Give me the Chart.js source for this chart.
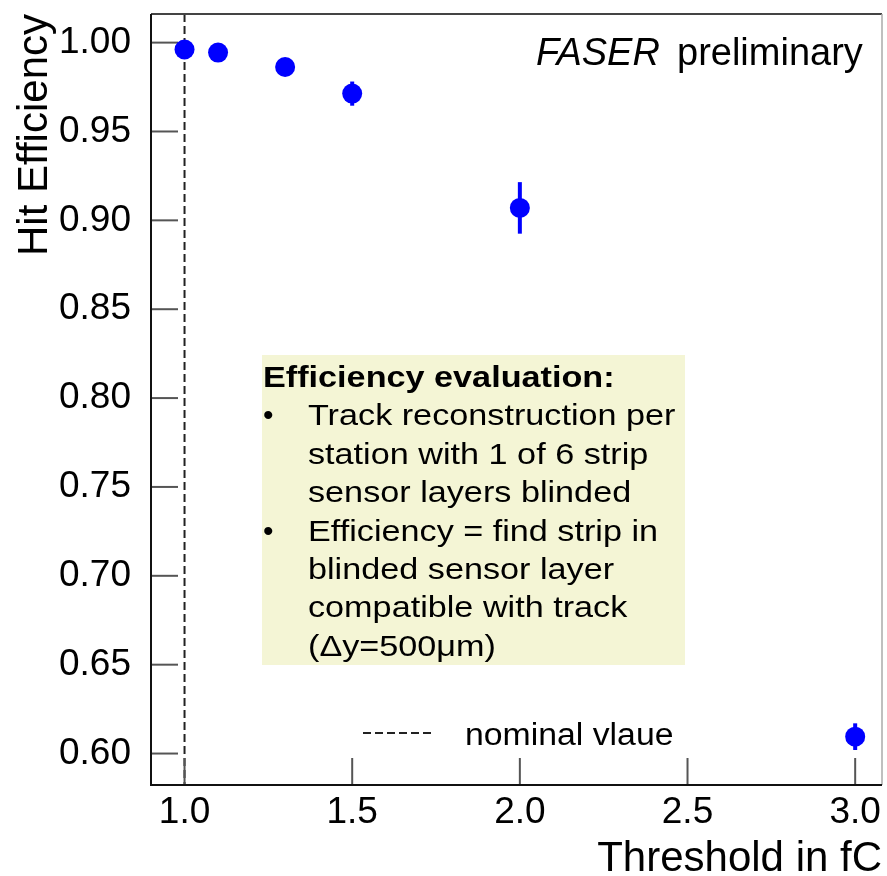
<!DOCTYPE html>
<html>
<head>
<meta charset="utf-8">
<script src="https://cdn.jsdelivr.net/npm/chart.js@4/dist/chart.umd.min.js"></script>
<style>
  html, body { margin: 0; padding: 0; background: #fff; }
  #wrap { width: 887px; height: 876px; }
</style>
</head>
<body>
<div id="wrap"><canvas id="my-Chart"></canvas></div>
<script>
// dados
const thresholds = [1.0, 1.1, 1.3, 1.5, 2.0, 3.0];
const efficiency = [0.9961, 0.9944, 0.9863, 0.9713, 0.9070, 0.6095];
const effErrors  = [0.002, 0.002, 0.003, 0.0068, 0.0145, 0.0075];
const nominalThreshold = 1.0;

const xTickLabels = ['1.0', '1.5', '2.0', '2.5', '3.0'];
const yTickLabels = ['0.60', '0.65', '0.70', '0.75', '0.80', '0.85', '0.90', '0.95', '1.00'];

const boxLines = [
    { bold: true,  bullet: false, text: 'Efficiency evaluation:' },
    { bold: false, bullet: true,  text: 'Track reconstruction per' },
    { bold: false, bullet: false, text: 'station with 1 of 6 strip' },
    { bold: false, bullet: false, text: 'sensor layers blinded' },
    { bold: false, bullet: true,  text: 'Efficiency = find strip in' },
    { bold: false, bullet: false, text: 'blinded sensor layer' },
    { bold: false, bullet: false, text: 'compatible with track' },
    { bold: false, bullet: false, text: '(\u0394y=500\u03bcm)' }
];

const FONT = '"Liberation Sans", Arial, Helvetica, sans-serif';

// ticks para dentro, moldura, linha nominal, barras de erro
const rootStyle = {
    id: 'rootStyle',
    beforeDatasetsDraw(chart) {
        const ctx = chart.ctx;
        const a = chart.chartArea;
        const xs = chart.scales.x, ys = chart.scales.y;
        ctx.save();

        // linha tracejada no valor nominal
        const xn = xs.getPixelForValue(nominalThreshold);
        ctx.strokeStyle = '#222';
        ctx.lineWidth = 2;
        ctx.setLineDash([8, 4]);
        ctx.beginPath();
        ctx.moveTo(xn, a.top);
        ctx.lineTo(xn, a.bottom);
        ctx.stroke();
        ctx.setLineDash([]);

        // ticks
        ctx.strokeStyle = '#555';
        ctx.lineWidth = 2;
        ys.ticks.forEach(t => {
            const y = ys.getPixelForValue(t.value);
            ctx.beginPath();
            ctx.moveTo(a.left, y);
            ctx.lineTo(a.left + 27, y);
            ctx.stroke();
        });
        xs.ticks.forEach(t => {
            const x = xs.getPixelForValue(t.value);
            ctx.beginPath();
            ctx.moveTo(x, a.bottom);
            ctx.lineTo(x, a.bottom - 27);
            ctx.stroke();
        });

        // barras de erro
        ctx.strokeStyle = '#0000ff';
        ctx.lineWidth = 4;
        thresholds.forEach((tx, i) => {
            const x = xs.getPixelForValue(tx);
            ctx.beginPath();
            ctx.moveTo(x, ys.getPixelForValue(efficiency[i] - effErrors[i]));
            ctx.lineTo(x, ys.getPixelForValue(efficiency[i] + effErrors[i]));
            ctx.stroke();
        });

        // moldura
        ctx.lineWidth = 2;
        ctx.strokeStyle = '#444';
        ctx.beginPath();
        ctx.moveTo(a.left, a.top);
        ctx.lineTo(a.right, a.top);
        ctx.stroke();
        ctx.strokeStyle = '#aaa';
        ctx.lineWidth = 1.5;
        ctx.beginPath();
        ctx.moveTo(a.right, a.top);
        ctx.lineTo(a.right, a.bottom);
        ctx.stroke();
        ctx.strokeStyle = '#111';
        ctx.lineWidth = 2;
        ctx.beginPath();
        ctx.moveTo(a.left, a.top);
        ctx.lineTo(a.left, a.bottom);
        ctx.lineTo(a.right, a.bottom);
        ctx.stroke();
        ctx.restore();
    },
    afterDraw(chart) {
        const ctx = chart.ctx;
        ctx.save();
        ctx.fillStyle = '#000';
        ctx.textBaseline = 'alphabetic';
        ctx.textAlign = 'left';

        // FASER preliminary
        ctx.font = 'italic 38px ' + FONT;
        ctx.fillText('FASER', 536, 65);
        ctx.font = '38px ' + FONT;
        ctx.fillText('preliminary', 677, 65);

        // legenda
        ctx.strokeStyle = '#222';
        ctx.lineWidth = 2;
        ctx.setLineDash([8, 4]);
        ctx.beginPath();
        ctx.moveTo(363, 733);
        ctx.lineTo(433, 733);
        ctx.stroke();
        ctx.setLineDash([]);
        ctx.font = '31px ' + FONT;
        ctx.save();
        ctx.translate(465, 745);
        ctx.scale(1.09, 1);
        ctx.fillText('nominal vlaue', 0, 0);
        ctx.restore();

        // caixa de texto
        ctx.fillStyle = '#f4f5d5';
        ctx.fillRect(262, 355, 423, 310);
        ctx.fillStyle = '#000';
        boxLines.forEach((ln, i) => {
            const base = 387 + i * 38.4;
            ctx.font = (ln.bold ? 'bold ' : '') + '30px ' + FONT;
            if (ln.bullet) {
                ctx.fillText('\u2022', 263, base);
            }
            const x0 = ln.bold ? 263 : 308;
            ctx.save();
            ctx.translate(x0, base);
            ctx.scale(1.14, 1);
            ctx.fillText(ln.text, 0, 0);
            ctx.restore();
        });
        ctx.restore();
    }
};

function plotChart() {
    const ctx = document.querySelector('#my-Chart');
    new Chart(ctx, {
        type: 'scatter',
        data: {
            datasets: [{
                label: 'Hit Efficiency',
                data: thresholds.map((t, i) => ({ x: t, y: efficiency[i] })),
                pointRadius: 10,
                pointHoverRadius: 10,
                backgroundColor: '#0000ff',
                borderWidth: 0
            }]
        },
        options: {
            responsive: true,
            maintainAspectRatio: false,
            animation: false,
            layout: { autoPadding: false, padding: { top: 14, right: 5, left: 0, bottom: 0 } },
            plugins: { legend: { display: false }, tooltip: { enabled: false } },
            scales: {
                x: {
                    type: 'linear',
                    min: 0.9,
                    max: 3.08,
                    grid: { display: false },
                    border: { display: false },
                    afterFit(s) {
                        s.height = 91;
                        s.paddingLeft = 0;
                        s.paddingRight = 0;
                    },
                    ticks: {
                        stepSize: 0.5,
                        includeBounds: false,
                        padding: -2,
                        color: '#000',
                        font: { family: FONT, size: 37 },
                        callback: (v) => xTickLabels.find(l => Math.abs(parseFloat(l) - v) < 1e-6) || ''
                    },
                    title: {
                        display: true,
                        text: 'Threshold in fC',
                        align: 'end',
                        color: '#000',
                        font: { family: FONT, size: 42, lineHeight: 0.8 },
                        padding: 0
                    }
                },
                y: {
                    type: 'linear',
                    min: 0.5823,
                    max: 1.0161,
                    grid: { display: false },
                    border: { display: false },
                    afterFit(s) {
                        s.width = 151;
                        s.paddingTop = 0;
                        s.paddingBottom = 0;
                    },
                    ticks: {
                        stepSize: 0.05,
                        includeBounds: false,
                        padding: 12,
                        color: '#000',
                        font: { family: FONT, size: 37 },
                        callback: (v) => yTickLabels.find(l => Math.abs(parseFloat(l) - v) < 1e-6) || ''
                    },
                    title: {
                        display: true,
                        text: 'Hit Efficiency',
                        align: 'end',
                        color: '#000',
                        font: { family: FONT, size: 42, lineHeight: 1.2 },
                        padding: { top: 10, bottom: 0 }
                    }
                }
            }
        },
        plugins: [rootStyle]
    });
}

document.addEventListener("DOMContentLoaded", plotChart);
</script>
</body>
</html>
